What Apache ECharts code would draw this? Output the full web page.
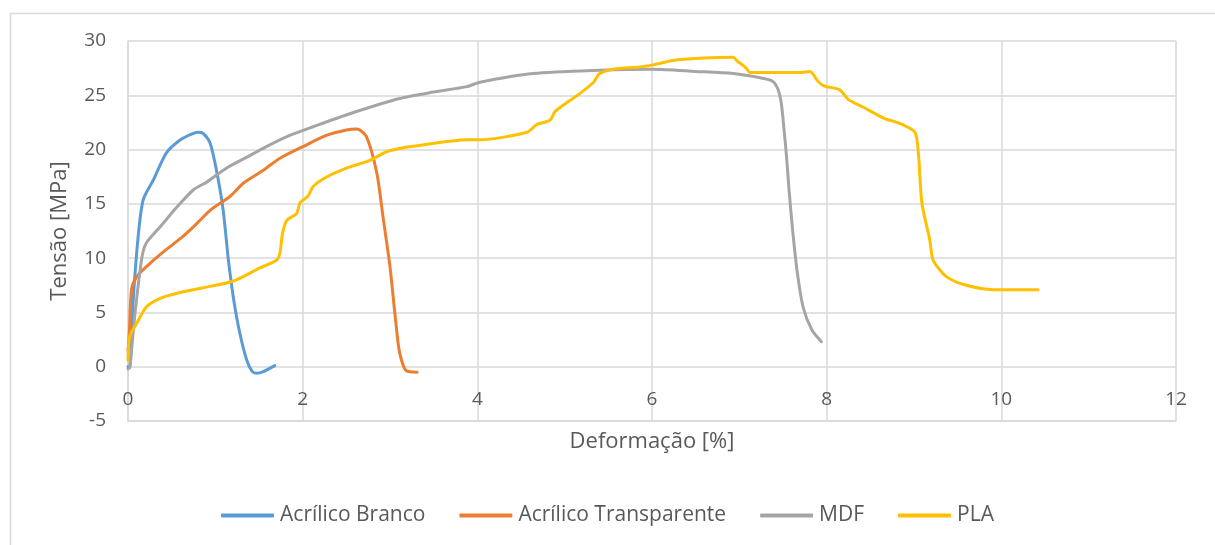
<!DOCTYPE html>
<html>
<head>
<meta charset="utf-8">
<script src="https://cdn.jsdelivr.net/npm/echarts@6/dist/echarts.min.js"></script>
<style>
  html, body { margin: 0; padding: 0; background: #fff; }
  #chart { width: 1215px; height: 545px; }
</style>
</head>
<body>
<div id="chart"></div>
<script>
// Stress–strain curves: [strain %, stress MPa]
const seriesNames = ['Acrílico Branco', 'Acrílico Transparente', 'MDF', 'PLA'];
const seriesColors = ['#5B9BD5', '#ED7D31', '#A5A5A5', '#FFC000'];

const acrilicoBranco = [
  [0.00, 0.0], [0.02, 0.0], [0.06, 6.2], [0.12, 12.3], [0.175, 15.4], [0.29, 17.2],
  [0.44, 19.7], [0.60, 20.9], [0.72, 21.4], [0.80, 21.6], [0.86, 21.5], [0.94, 20.6],
  [1.02, 17.8], [1.09, 14.4], [1.15, 9.8], [1.21, 6.2], [1.28, 3.1], [1.36, 0.6],
  [1.42, -0.4], [1.47, -0.6], [1.55, -0.45], [1.68, 0.1]
];

const acrilicoTransparente = [
  [0.00, 1.5], [0.015, 3.1], [0.04, 7.1], [0.10, 8.3], [0.25, 9.5], [0.44, 10.8],
  [0.63, 12.0], [0.79, 13.2], [0.94, 14.4], [1.17, 15.7], [1.32, 16.9], [1.55, 18.1],
  [1.74, 19.2], [2.01, 20.3], [2.27, 21.3], [2.50, 21.8], [2.62, 21.9], [2.73, 21.2],
  [2.85, 17.8], [2.92, 13.8], [3.00, 9.2], [3.06, 4.6], [3.11, 1.3], [3.19, -0.4],
  [3.31, -0.5]
];

const mdf = [
  [0.00, -0.2], [0.02, -0.1], [0.08, 4.9], [0.16, 10.1], [0.21, 11.4], [0.37, 12.9],
  [0.56, 14.7], [0.75, 16.3], [0.90, 17.0], [1.13, 18.3], [1.36, 19.3], [1.59, 20.3],
  [1.82, 21.2], [2.12, 22.1], [2.54, 23.3], [3.11, 24.7], [3.50, 25.3], [3.88, 25.8],
  [4.03, 26.2], [4.64, 27.0], [5.40, 27.3], [6.01, 27.4], [6.50, 27.2], [6.93, 27.0],
  [7.25, 26.6], [7.38, 26.3], [7.44, 25.6], [7.48, 24.3], [7.51, 22.0], [7.54, 19.4],
  [7.57, 16.2], [7.61, 12.6], [7.66, 8.9], [7.73, 5.5], [7.83, 3.4], [7.94, 2.3]
];

const pla = [
  [0.00, 0.6], [0.02, 2.8], [0.10, 4.0], [0.21, 5.5], [0.37, 6.3], [0.63, 6.9],
  [0.94, 7.4], [1.17, 7.8], [1.32, 8.3], [1.51, 9.1], [1.70, 9.8], [1.74, 10.5],
  [1.77, 12.3], [1.82, 13.5], [1.93, 14.1], [1.97, 15.1], [2.06, 15.7], [2.12, 16.6],
  [2.28, 17.5], [2.54, 18.4], [2.77, 19.0], [2.96, 19.8], [3.11, 20.1], [3.27, 20.3],
  [3.88, 20.9], [4.03, 20.9], [4.57, 21.6], [4.68, 22.3], [4.83, 22.7], [4.89, 23.5],
  [5.02, 24.3], [5.18, 25.2], [5.33, 26.2], [5.40, 27.0], [5.56, 27.4], [5.86, 27.6],
  [6.01, 27.8], [6.24, 28.2], [6.55, 28.4], [6.93, 28.5], [6.97, 28.2], [7.08, 27.5],
  [7.12, 27.1], [7.69, 27.1], [7.81, 27.2], [7.89, 26.4], [7.96, 25.9], [8.15, 25.5],
  [8.25, 24.6], [8.42, 23.9], [8.65, 22.9], [8.84, 22.4], [9.01, 21.6], [9.05, 19.7],
  [9.09, 15.1], [9.18, 11.7], [9.22, 9.8], [9.37, 8.3], [9.60, 7.5], [9.91, 7.1],
  [10.42, 7.1]
];

const seriesData = [acrilicoBranco, acrilicoTransparente, mdf, pla];

const xTicks = { min: 0, max: 12, interval: 2 };
const yTicks = { min: -5, max: 30, interval: 5 };

const gridColor = '#D9D9D9';
const textColor = '#595959';
const fontFamily = '"Open Sans", "Noto Sans", sans-serif';

const chart = echarts.init(document.getElementById('chart'), null, { renderer: 'canvas' });

chart.setOption({
  animation: false,
  backgroundColor: '#ffffff',
  graphic: [{
    type: 'rect',
    left: 8, top: 11,
    shape: { width: 1220, height: 545 },
    style: { fill: 'none', stroke: gridColor, lineWidth: 1.5 },
    silent: true, z: -1
  }],
  grid: { left: 128, right: 39, top: 41, bottom: 124, containLabel: false },
  legend: {
    data: seriesNames,
    bottom: 14,
    left: 'center',
    itemWidth: 53,
    itemHeight: 4,
    itemGap: 34,
    icon: 'roundRect',
    textStyle: { color: textColor, fontSize: 21, fontFamily: fontFamily, padding: [0, 0, 0, 1] }
  },
  xAxis: {
    type: 'value',
    min: xTicks.min, max: xTicks.max, interval: xTicks.interval,
    name: 'Deformação [%]',
    nameLocation: 'middle',
    nameGap: 10,
    nameTextStyle: { color: textColor, fontSize: 22, fontFamily: fontFamily },
    axisLine: { show: true, onZero: false, lineStyle: { color: gridColor, width: 1.5 } },
    axisTick: { show: false },
    // tick labels sit just below the zero line, between 0 and -5
    axisLabel: { color: textColor, fontSize: 19, fontFamily: fontFamily, margin: -31 },
    splitLine: { show: true, lineStyle: { color: gridColor, width: 1.5 } }
  },
  yAxis: {
    type: 'value',
    min: yTicks.min, max: yTicks.max, interval: yTicks.interval,
    name: 'Tensão [MPa]',
    nameLocation: 'middle',
    nameRotate: 90,
    nameGap: 57,
    nameTextStyle: { color: textColor, fontSize: 22, fontFamily: fontFamily },
    axisLine: { show: true, onZero: false, lineStyle: { color: gridColor, width: 1.5 } },
    axisTick: { show: false },
    axisLabel: { color: textColor, fontSize: 19, fontFamily: fontFamily, margin: 22 },
    splitLine: { show: true, lineStyle: { color: gridColor, width: 1.5 } }
  },
  series: seriesNames.map((name, i) => ({
    name: name,
    type: 'line',
    data: seriesData[i],
    smooth: 0.25,
    symbol: 'none',
    color: seriesColors[i],
    lineStyle: { color: seriesColors[i], width: 3, cap: 'round', join: 'round' },
    z: 2 + i
  }))
});
</script>
</body>
</html>
